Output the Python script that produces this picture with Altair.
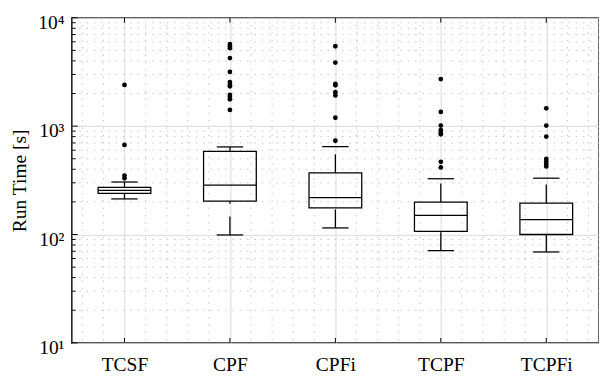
import altair as alt
import pandas as pd

# ---- data ----
categories = ["TCSF", "CPF", "CPFi", "TCPF", "TCPFi"]
whisker_low = [213, 99, 115, 71, 69]
q1 = [240, 203, 176, 107, 100]
median = [255, 285, 219, 150, 137]
q3 = [272, 584, 371, 199, 195]
whisker_high = [305, 643, 647, 327, 331]
outliers_tcsf = [2400, 670, 350, 330]
outliers_cpf = [5720, 5460, 5240, 4250, 3160, 2550, 2420, 2330, 1940, 1860, 1770, 1410]
outliers_cpfi = [5460, 3860, 2450, 2380, 2060, 1920, 1195, 733]
outliers_tcpf = [2720, 1352, 1011, 921, 871, 841, 468, 416]
outliers_tcpfi = [1459, 1011, 802, 498, 471, 447, 425]
y_ticks = [10, 100, 1000, 10000]
y_tick_labels = ["10¹", "10²", "10³", "10⁴"]
y_title = "Run Time [s]"

# ---- tables ----
idx = list(range(1, len(categories) + 1))
stats = pd.DataFrame({"idx": idx, "name": categories, "lo": whisker_low, "q1": q1,
                      "med": median, "q3": q3, "hi": whisker_high})
out_lists = [outliers_tcsf, outliers_cpf, outliers_cpfi, outliers_tcpf, outliers_tcpfi]
outl = pd.DataFrame([{"idx": i, "v": v} for i, lst in zip(idx, out_lists) for v in lst])
minor_y = pd.DataFrame({"v": [m * d for d in y_ticks[:-1] for m in range(2, 10)]})
minor_x = pd.DataFrame({"idx": [i + o for i in idx for o in (-0.4, -0.2, 0.2, 0.4)]})
major_y = pd.DataFrame({"v": y_ticks})
cat_df = pd.DataFrame({"idx": idx})

W, H = 541.7, 334
FONT = "Liberation Serif"
FS = 20
xs = alt.Scale(domain=[0.5, len(categories) + 0.5], nice=False, zero=False)
ys = alt.Scale(type="log", domain=[y_ticks[0], y_ticks[-1]], nice=False)

lab_x = "[" + ",".join("'%s'" % c for c in categories) + "][round(datum.value)-1]"
lab_y = "[" + ",".join("'%s'" % c for c in y_tick_labels) + "][round(log(datum.value)/LN10)-1]"

x_axis = alt.Axis(values=idx, labelExpr=lab_x, grid=True, gridColor="#d9d9d9", gridWidth=1,
                  ticks=False, domain=False, labelFont=FONT, labelFontSize=FS,
                  labelColor="black", labelPadding=12, title=None)
y_axis = alt.Axis(values=y_ticks, labelExpr=lab_y, grid=True, gridColor="#d9d9d9", gridWidth=1,
                  ticks=False, domain=False, labelFont=FONT, labelFontSize=FS,
                  labelColor="black", labelPadding=8, labelOffset=5,
                  title=y_title, titleFont=FONT, titleFontSize=FS, titleFontWeight="normal",
                  titleColor="black", titlePadding=9)


def X(f):
    return alt.X(f, type="quantitative", scale=xs, axis=x_axis)


def Y(f):
    return alt.Y(f, type="quantitative", scale=ys, axis=y_axis)


dot_style = dict(color="#c4c4c4", strokeWidth=1, strokeDash=[1.5, 6])

grid_y = alt.Chart(minor_y).mark_rule(**dot_style).encode(y=Y("v"))
grid_x = alt.Chart(minor_x).mark_rule(**dot_style).encode(x=X("idx"))

base = alt.Chart(stats).transform_calculate(
    bl="datum.idx - 0.25", br="datum.idx + 0.25",
    cl="datum.idx - 0.125", cr="datum.idx + 0.125")

LW = 1.3
box = base.mark_rect(fill="transparent", stroke="black", strokeWidth=LW).encode(
    x=X("bl"), x2="br:Q", y=Y("q1"), y2="q3:Q")
med = base.mark_rule(color="black", strokeWidth=LW).encode(
    x=X("bl"), x2="br:Q", y=Y("med"))
wh_up = base.mark_rule(color="black", strokeWidth=LW, strokeDash=[19, 13]).encode(
    x=X("idx"), y=Y("q3"), y2="hi:Q")
wh_lo = base.mark_rule(color="black", strokeWidth=LW, strokeDash=[19, 13]).encode(
    x=X("idx"), y=Y("lo"), y2="q1:Q")
cap_hi = base.mark_rule(color="black", strokeWidth=LW).encode(
    x=X("cl"), x2="cr:Q", y=Y("hi"))
cap_lo = base.mark_rule(color="black", strokeWidth=LW).encode(
    x=X("cl"), x2="cr:Q", y=Y("lo"))
pts = alt.Chart(outl).mark_circle(color="black", size=24, opacity=1).encode(
    x=X("idx"), y=Y("v"))

# inward ticks
tick_b = alt.Chart(cat_df).mark_rule(color="black", strokeWidth=1).encode(
    x=X("idx"), y=alt.value(H), y2=alt.value(H - 5))
tick_t = alt.Chart(cat_df).mark_rule(color="black", strokeWidth=1).encode(
    x=X("idx"), y=alt.value(0), y2=alt.value(5))
tick_ymin = alt.Chart(minor_y).mark_rule(color="black", strokeWidth=1).encode(
    y=Y("v"), x=alt.value(0), x2=alt.value(4))
tick_ymaj = alt.Chart(major_y).mark_rule(color="black", strokeWidth=1).encode(
    y=Y("v"), x=alt.value(0), x2=alt.value(6))

chart = alt.layer(
    grid_y, grid_x, box, med, wh_up, wh_lo, cap_hi, cap_lo, pts,
    tick_b, tick_t, tick_ymin, tick_ymaj
).properties(
    width=W, height=H,
    autosize=alt.AutoSizeParams(type="none"),
    padding={"left": 65.5, "top": 5, "right": 0, "bottom": 29},
    background="white",
).configure_view(stroke="black", strokeWidth=1.4)

chart.save("out.html", embed_options={"renderer": "svg", "actions": False})
